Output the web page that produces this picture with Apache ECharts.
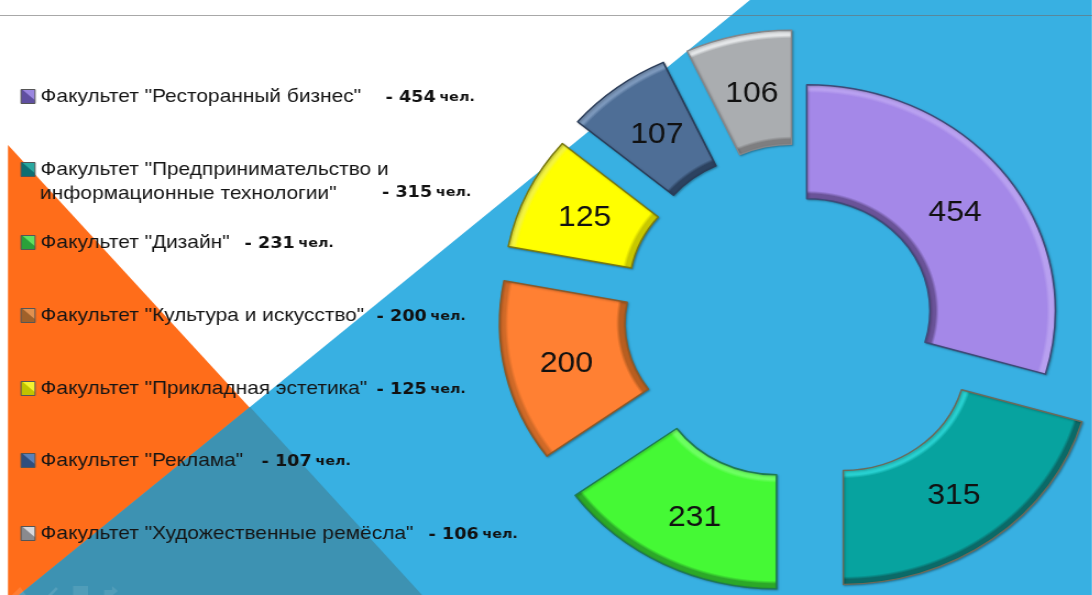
<!DOCTYPE html>
<html><head><meta charset="utf-8">
<style>html,body{margin:0;padding:0;background:#fff;overflow:hidden}
#c{width:993px;height:595px;transform:scaleX(1.1);transform-origin:0 0}</style>
<script src="https://cdn.jsdelivr.net/npm/echarts@6/dist/echarts.min.js"></script>
</head><body><div id="c"></div>
<script>
const categories = ['Факультет "Ресторанный бизнес"','Факультет "Предпринимательство и','Факультет "Дизайн"','Факультет "Культура и искусство"','Факультет "Прикладная эстетика"','Факультет "Реклама"','Факультет "Художественные ремёсла"'];
const students = [454,315,231,200,125,107,106];
const sliceColors = ['#A488E8','#07A39F','#45F935','#FF8033','#FFFF00','#4E6E96','#AAADB0'];
const outerEdge = ['#B8A0F0','#0A6A68','#2CA828','#D06A28','#F4F440','#7C98BC','#E4E6E8'];
const innerEdge = ['#6A5398','#28D0D0','#6CFF60','#B85E20','#C8C800','#2C4260','#7E7E80'];
const borders = ['#3E4A78','#6A6A5A','#1E7A50','#8A5A2A','#7A7A10','#2A3C58','#85878A'];
const legendColors = ['#5F4FA0','#0E6E72','#2AA13A','#A0612A','#C0C400','#2F4E7E','#8A8A8E'];
const legendLight = ['#9A86E0','#2AA8A0','#60E060','#E09050','#F4F430','#5A80B8','#D8D8DC'];
const explodeOffsets = [2,58,57,53,53,56,57];
const labelShifts = [[-3,5],[-3,0],[4,2],[3,3],[3,3],[4,4],[1,6]];
const legendTops = [95,168,241,314,387,459,532];
const valueColumns = [385,382,244,376,376,261,428];
const secondLine = 'информационные технологии"';

const SX = 1.1, sx = v => v / SX;
const cx = sx(805), cy = 312, R = 226, r = 112;
const sliceFill = i => ({type:'radial',x:cx,y:cy,r:R,global:true,colorStops:[
  {offset:r/R,color:innerEdge[i]},{offset:(r+5)/R,color:innerEdge[i]},{offset:(r+8)/R,color:sliceColors[i]},
  {offset:(R-8)/R,color:sliceColors[i]},{offset:(R-5)/R,color:outerEdge[i]},{offset:1,color:outerEdge[i]}]});
const poly = (pts,fill,z) => ({type:'polygon',silent:true,z,shape:{points:pts.map(p=>[sx(p[0]),p[1]])},style:{fill}});
const shiftPadding = ([dx,dy]) => {
  const ux = sx(dx) * 2, uy = dy * 2;
  return [Math.max(uy,0), Math.max(-ux,0), Math.max(-uy,0), Math.max(ux,0)];
};

const series = students.map((_, i) => ({
  type:'pie', center:[cx,cy], radius:[r,R], startAngle:90, clockwise:true, sort:null,
  animation:false, silent:true, selectedMode:'multiple', selectedOffset:explodeOffsets[i],
  labelLine:{show:false}, emphasis:{disabled:true},
  data: students.map((v, j) => j === i ? {
    name:categories[j], value:v, selected:true,
    itemStyle:{color:sliceFill(j),borderColor:borders[j],borderWidth:1.5,shadowColor:'rgba(0,0,0,0.25)',shadowBlur:2,shadowOffsetX:1,shadowOffsetY:1},
    label:{show:true,position:'inside',formatter:'{a|{c}}',
      rich:{a:{padding:shiftPadding(labelShifts[j]),fontFamily:'Liberation Sans',fontSize:29,color:'#111'}}}
  } : {name:categories[j],value:v,itemStyle:{color:'transparent',borderWidth:0},label:{show:false}})
}));

const valueRich = {
  v:{fontFamily:'DejaVu Sans',fontWeight:'bold',fontSize:16,color:'#111',height:20,padding:[2,0,0,0]},
  u:{fontFamily:'DejaVu Sans',fontWeight:'bold',fontSize:13,color:'#111',height:20,padding:[2,0,0,0]}
};
const legends = categories.map((name,i) => ({
  left:sx(20.5), top:legendTops[i]-8, padding:0, orient:'vertical', itemWidth:sx(14), itemHeight:14, itemGap:0,
  selectedMode:false, inactiveColor:legendColors[i],
  data:[{name,icon:'rect',itemStyle:{color:{type:'linear',x:0,y:1,x2:1,y2:0,colorStops:[{offset:0,color:legendColors[i]},{offset:0.55,color:legendColors[i]},{offset:0.6,color:legendLight[i]},{offset:1,color:legendLight[i]}]},borderColor:'#555',borderWidth:1}}],
  formatter:n => `{n${i}|${n}}` + (i===1?'':`{v|- ${students[i]}} {u|чел.}`),
  textStyle:{rich:{
    ['n'+i]:{fontFamily:'Liberation Sans',fontSize:19,color:'#151515',width:sx(valueColumns[i]-40),height:20},
    ...valueRich
  }}
}));

const chart = echarts.init(document.getElementById('c'));
chart.setOption({
  backgroundColor:'#fff',
  animation:false,
  legend:legends,
  series,
  graphic:[
    poly([[8,145],[422,595],[8,595]],'#FF6D1A',1),
    poly([[750,0],[1092,0],[1092,595],[19,595]],'#38B0E2',2),
    poly([[250,407],[422,595],[19,595]],'#3D92B2',3),
    poly([[12,595],[20,587],[26,595]],'rgba(255,255,255,0.12)',4),
    poly([[48,595],[56,587],[58,589],[52,595]],'rgba(255,255,255,0.12)',4),
    poly([[73,586],[88,586],[88,595],[73,595]],'rgba(255,255,255,0.1)',4),
    poly([[104,590],[112,590],[112,586],[118,591],[113,595],[104,595]],'rgba(255,255,255,0.1)',4),
    {type:'rect',silent:true,z:4,shape:{x:0,y:15,width:993,height:1},style:{fill:'rgba(110,110,110,0.6)'}},
    {type:'text',silent:true,z:5,left:sx(40),top:184,style:{text:secondLine,fontFamily:'Liberation Sans',fontSize:19,fill:'#151515'}},
    {type:'text',silent:true,z:5,left:sx(382),top:185,style:{rich:{v:{fontFamily:'DejaVu Sans',fontWeight:'bold',fontSize:16,fill:'#111'},u:{fontFamily:'DejaVu Sans',fontWeight:'bold',fontSize:13,fill:'#111'}},text:`{v|- ${students[1]}} {u|чел.}`}}
  ]
});
</script></body></html>
